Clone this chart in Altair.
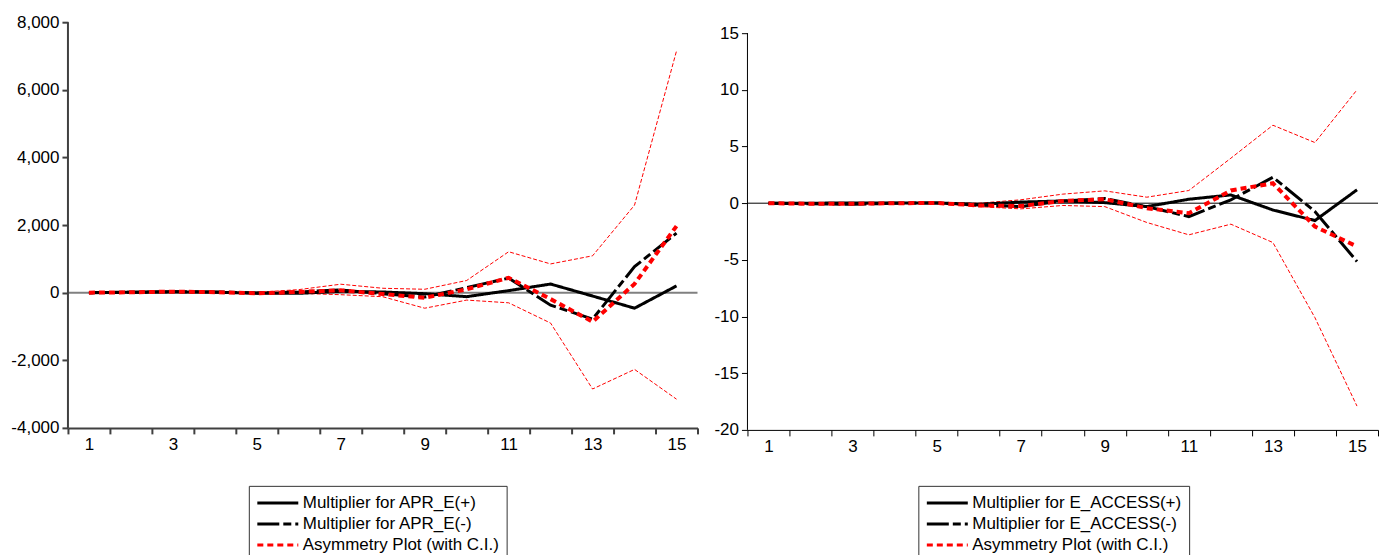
import altair as alt
import pandas as pd

periods = list(range(1, 16))

# Left panel: APR_E
apr_plus = [0, 10, 25, 15, -15, -20, 40, 20, -30, -118, 60, 255, -100, -460, 200]
apr_minus = [0, 15, 30, 20, -10, 20, 80, -30, -130, 150, 430, -370, -780, 770, 1760]
apr_asym = [0, 10, 30, 15, -20, 20, 70, -40, -150, 100, 440, -190, -860, 260, 1970]
apr_upper = [0, 15, 35, 25, 10, 90, 250, 130, 100, 360, 1210, 850, 1090, 2590, 7150]
apr_lower = [0, 5, 15, 5, -40, -20, -60, -120, -460, -220, -300, -900, -2850, -2270, -3150]

# Right panel: E_ACCESS
acc_plus = [0, 0, 0.02, 0.02, 0.02, -0.1, 0.1, 0.2, 0.05, -0.3, 0.35, 0.73, -0.6, -1.53, 1.18]
acc_minus = [0, -0.05, -0.1, 0, 0.02, -0.15, -0.3, 0.2, 0.41, -0.3, -1.18, 0.3, 2.29, -0.73, -5.14]
acc_asym = [0, -0.05, -0.05, 0, 0.02, -0.2, -0.25, 0.2, 0.35, -0.44, -0.88, 1.12, 1.76, -2.06, -3.82]
acc_upper = [0, 0.02, 0.05, 0.05, 0.05, 0.0, 0.3, 0.8, 1.09, 0.53, 1.12, 3.97, 6.88, 5.35, 10.0]
acc_lower = [0, -0.05, -0.1, -0.05, -0.02, -0.3, -0.5, -0.2, -0.3, -1.7, -2.79, -1.85, -3.47, -10.1, -17.9]

apr_yticks = [-4000, -2000, 0, 2000, 4000, 6000, 8000]
acc_yticks = [-20, -15, -10, -5, 0, 5, 10, 15]

FONT = "Liberation Sans"
FS = 17
LFS = 17


def panel(name, plus, minus, asym, upper, lower, ydom, yticks, axis_top, width, height,
          legend_x, legend_y, zero_color, zero_width, axis_color, axis_width):
    labels = [f"Multiplier for {name}(+)", f"Multiplier for {name}(-)",
              "Asymmetry Plot (with C.I.)"]
    rows = []
    for lab, vals in zip(labels[:2], [plus, minus]):
        for p, v in zip(periods, vals):
            rows.append({"period": p, "value": v, "series": lab})
    df = pd.DataFrame(rows)
    df_asym = pd.DataFrame({"period": periods, "value": asym, "series": labels[2]})
    ci_rows = []
    for lab, vals in zip(["upper", "lower"], [upper, lower]):
        for p, v in zip(periods, vals):
            ci_rows.append({"period": p, "value": v, "band": lab})
    ci = pd.DataFrame(ci_rows)

    half = width / 30.0
    x = alt.X(
        "period:Q",
        scale=alt.Scale(domain=[0.5, 15.5], nice=False, zero=False),
        axis=alt.Axis(
            values=[i + 0.5 for i in range(16)],
            labelExpr="(datum.value - 0.5) % 2 == 0 ? format(datum.value + 0.5, 'd') : ''",
            labelOffset={"condition": {"test": "datum.value > 15", "value": 0}, "value": half},
            labelOverlap=False,
            labelFlush=False,
            title=None,
            grid=False,
            tickSize=6,
            labelPadding=3,
            domainColor=axis_color,
            domainWidth=axis_width,
            tickColor=axis_color,
            tickWidth=axis_width,
            labelFont=FONT,
            labelFontSize=FS,
            labelColor="black",
        ),
    )
    y = alt.Y(
        "value:Q",
        scale=alt.Scale(domain=ydom, nice=False, zero=False),
        axis=alt.Axis(
            values=yticks,
            labelExpr="datum.value < 0 ? '-' + format(-datum.value, ',') : format(datum.value, ',')",
            title=None,
            grid=False,
            domain=False,
            tickSize=6,
            labelPadding=3,
            tickColor=axis_color,
            tickWidth=axis_width,
            labelFont=FONT,
            labelFontSize=FS,
            labelColor="black",
            labelOverlap=False,
        ),
    )

    legend = alt.Legend(
        orient="none",
        legendX=legend_x,
        legendY=legend_y,
        title=None,
        direction="vertical",
        symbolType="stroke",
        symbolSize=1681,
        symbolStrokeWidth=3,
        clipHeight=20.5,
        strokeColor="#333333",
        padding=7,
        rowPadding=0,
        labelFont=FONT,
        labelFontSize=LFS,
        labelColor="black",
        labelLimit=500,
        labelOffset=3,
        fillColor="white",
    )
    color = alt.Color("series:N", scale=alt.Scale(domain=labels, range=["black", "black", "red"]),
                      legend=legend)
    dash = alt.StrokeDash("series:N",
                          scale=alt.Scale(domain=labels, range=[[1, 0], [22, 4, 8, 4], [6, 4]]),
                          legend=legend)

    ci_layer = alt.Chart(ci).mark_line(
        color="red", strokeWidth=1, strokeDash=[4, 2]
    ).encode(x=x, y=y, detail="band:N")

    zero = alt.Chart(pd.DataFrame({"value": [0]})).mark_rule(
        color=zero_color, strokeWidth=zero_width
    ).encode(y=alt.Y("value:Q"))

    yaxis_line = alt.Chart(pd.DataFrame({"lo": [ydom[0]], "hi": [axis_top]})).mark_rule(
        color=axis_color, strokeWidth=axis_width
    ).encode(x=alt.value(0), y=alt.Y("lo:Q"), y2="hi:Q")

    lines = alt.Chart(df).mark_line(strokeWidth=3).encode(
        x=x, y=y, color=color, strokeDash=dash, order=alt.Order("period:Q"),
    )
    asym_line = alt.Chart(df_asym).mark_line(strokeWidth=4).encode(
        x=x, y=y, color=color, strokeDash=dash, order=alt.Order("period:Q"),
    )

    return alt.layer(zero, yaxis_line, ci_layer, lines, asym_line).properties(width=width, height=height)


left = panel("APR_E", apr_plus, apr_minus, apr_asym, apr_upper, apr_lower,
             [-4000, 8000], apr_yticks, 8000, 630, 406, 181, 464, "#808080", 2, "#404040", 2)
right = panel("E_ACCESS", acc_plus, acc_minus, acc_asym, acc_upper, acc_lower,
              [-20, 15.97], acc_yticks, 15, 631, 408, 171, 464, "black", 1, "black", 1)

chart = alt.hconcat(left, right, spacing=15).resolve_scale(
    color="independent", strokeDash="independent"
).configure_view(strokeWidth=0).properties(
    padding={"left": 2, "top": 5, "right": 0, "bottom": -6}
)

chart.save("out.html", embed_options={"renderer": "svg", "actions": False})
